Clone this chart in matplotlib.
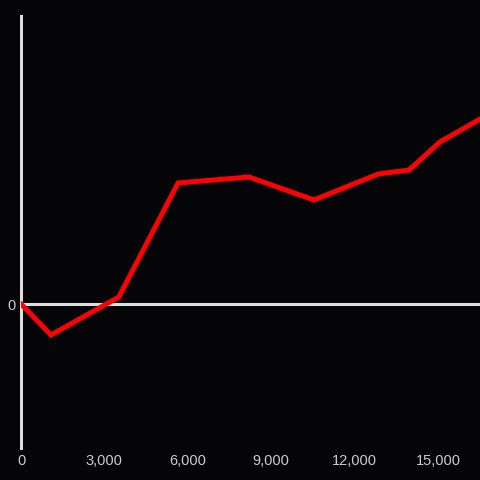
import matplotlib
matplotlib.use('Agg')
from matplotlib import pyplot as plt
from matplotlib.ticker import FuncFormatter

x_values = [0, 1080, 3520, 5650, 8200, 10540, 12850, 13960, 15070, 16520]
y_values = [0, -31, 7, 121, 127, 104, 130, 134, 162, 185]
x_ticks = [0, 3000, 6000, 9000, 12000, 15000]
y_ticks = [0]

bg = '#050407'
axis_col = '#dddddd'
text_col = '#cccccc'

plt.rcParams.update({'font.size': 10.5, 'font.family': ['Liberation Sans', 'DejaVu Sans']})
fig = plt.figure(figsize=(4.8, 4.8), dpi=100, facecolor=bg)
ax = fig.add_axes([21 / 480, 32 / 480, 459 / 480, 432 / 480], facecolor=bg)

ax.plot(x_values, y_values, color='#ff0000', lw=3.6, solid_joinstyle='miter', zorder=3)
ax.axhline(0, color=axis_col, lw=2.2, zorder=2)

ax.set_xlim(0, 16510)
ax.set_ylim(-144, 288)

for side in ['top', 'right', 'bottom']:
    ax.spines[side].set_visible(False)
ax.spines['left'].set_color(axis_col)
ax.spines['left'].set_linewidth(2.2)

ax.set_xticks(x_ticks)
ax.xaxis.set_major_formatter(FuncFormatter(lambda v, p: f'{int(v):,}'))
ax.set_yticks(y_ticks)
ax.tick_params(length=0, colors=text_col, labelsize=10.5)
ax.tick_params(axis='x', pad=4)
ax.tick_params(axis='y', pad=4)

fig.savefig('out.png', dpi=100, facecolor=bg)
